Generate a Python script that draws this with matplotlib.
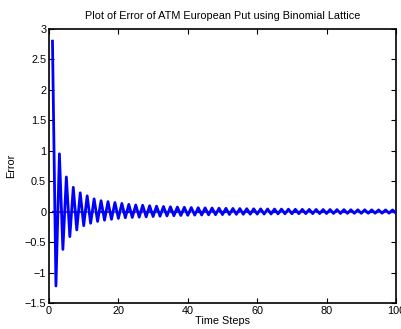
import matplotlib
matplotlib.use("Agg")
import matplotlib.pyplot as plt
from matplotlib.collections import LineCollection

plt.rcParams['font.family'] = ['Liberation Sans', 'DejaVu Sans']

steps = list(range(1, 101))
error = [2.80, -1.22, 0.95, -0.62, 0.57, -0.41, 0.40, -0.30, 0.31, -0.23,
         0.26, -0.19, 0.21, -0.16, 0.18, -0.14, 0.165, -0.125, 0.15, -0.11,
         0.135, -0.10, 0.12, -0.095, 0.11, -0.09, 0.105, -0.085, 0.097, -0.08,
         0.09, -0.075, 0.085, -0.07, 0.08, -0.067, 0.076, -0.063, 0.072, -0.06,
         0.068, -0.057, 0.065, -0.055, 0.062, -0.052, 0.06, -0.05, 0.057, -0.048,
         0.055, -0.046, 0.053, -0.044, 0.051, -0.043, 0.049, -0.041, 0.047, -0.04,
         0.046, -0.039, 0.044, -0.038, 0.043, -0.036, 0.042, -0.035, 0.041, -0.034,
         0.039, -0.033, 0.038, -0.032, 0.037, -0.032, 0.036, -0.031, 0.035, -0.03,
         0.035, -0.029, 0.034, -0.029, 0.033, -0.028, 0.032, -0.027, 0.031, -0.027,
         0.031, -0.026, 0.030, -0.026, 0.029, -0.025, 0.029, -0.025, 0.028, -0.024]
reference = [0.0] * 100
ref_colors = [(0, 0, 1), (0, 0.5, 0), (1, 0, 0), (0, 0.75, 0.75),
              (0.75, 0, 0.75), (0.75, 0.75, 0), (0.25, 0.25, 0.25)]
xticks = [0, 20, 40, 60, 80, 100]
yticks = [-1.5, -1, -0.5, 0, 0.5, 1, 1.5, 2, 2.5, 3]

fig = plt.figure(figsize=(4.02, 3.29), dpi=100)
ax = fig.add_axes([0.1219, 0.079, 0.8631, 0.8329])

segs = [[(steps[i], reference[i]), (steps[i + 1], reference[i + 1])]
        for i in range(len(steps) - 1)]
cols = [ref_colors[i % len(ref_colors)] for i in range(len(segs))]
ax.add_collection(LineCollection(segs, colors=cols, linewidths=1.6, zorder=2))

ax.plot(steps, error, color=(0, 0, 1), linewidth=2.0, zorder=3)

ax.set_xlim(0, 100)
ax.set_ylim(-1.5, 3)
ax.set_xticks(xticks)
ax.set_yticks(yticks)
ax.set_yticklabels(['\u22121.5', '\u22121', '\u22120.5', '0', '0.5', '1', '1.5', '2', '2.5', '3'])
ax.tick_params(direction='in', top=True, right=True, labelsize=7.8, length=3.5,
               width=0.8, pad=2)
for s in ax.spines.values():
    s.set_linewidth(1.2)
ax.set_title('Plot of Error of ATM European Put using Binomial Lattice', fontsize=7.8, pad=7)
ax.set_xlabel('Time Steps', fontsize=7.8, labelpad=0)
ax.set_ylabel('Error', fontsize=7.8, labelpad=6)

fig.savefig('out.png', dpi=100)
